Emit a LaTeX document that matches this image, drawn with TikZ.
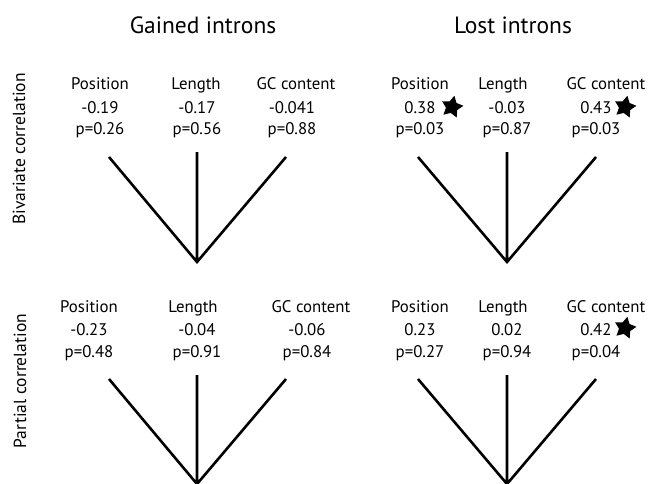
\documentclass[tikz,border=0pt]{standalone}
\usepackage{fontspec}
\setmainfont{PT Sans}
\usetikzlibrary{shapes.geometric}

\begin{document}
\begin{tikzpicture}[x=1pt, y=-1pt, line width=2.6pt,
        title/.style={font=\fontsize{23.5}{28}\selectfont, anchor=base, inner sep=0pt},
        head/.style={font=\fontsize{16.8}{21}\selectfont, anchor=base, inner sep=0pt},
        vals/.style={font=\fontsize{16.8}{21.5}\selectfont, anchor=base, inner sep=0pt, align=center},
        rowlab/.style={font=\fontsize{17.5}{20}\selectfont, rotate=90, anchor=base, inner sep=0pt},
        signif/.style={star, star points=5, star point ratio=1.9, minimum size=23pt,
                       fill=black, inner sep=0pt, rotate=-12}]
        \useasboundingbox (0,0) rectangle (650,483);

%% titles
        \node [title] (gained) at (203,33) {Gained introns};
        \node [title] (lost) at (513,33) {Lost introns};
        \node [rowlab] (bivariate) at (25,149) {Bivariate correlation};
        \node [rowlab] (partial) at (26,381) {Partial correlation};

%% bivariate, gained
        \node [head] (gbposhead) at (100,89) {Position};
        \node [vals] (gbposval) at (100,134.5) {-0.19\\p=0.26};
        \node [head] (gblenhead) at (196,89) {Length};
        \node [vals] (gblenval) at (197,134.5) {-0.17\\p=0.56};
        \node [head] (gbgchead) at (296,89) {GC content};
        \node [vals] (gbgcval) at (292,134.5) {-0.041\\p=0.88};

%% bivariate, lost
        \node [head] (lbposhead) at (420,89) {Position};
        \node [vals] (lbposval) at (420,134.5) {0.38\\p=0.03};
        \node [head] (lblenhead) at (503,89) {Length};
        \node [vals] (lblenval) at (507,134.5) {-0.03\\p=0.87};
        \node [head] (lbgchead) at (606,89) {GC content};
        \node [vals] (lbgcval) at (596,134.5) {0.43\\p=0.03};
        \node [signif] (lbposstar) at (452,107) {};
        \node [signif] (lbgcstar) at (625,107) {};

%% partial, gained
        \node [head] (gpposhead) at (89,312) {Position};
        \node [vals] (gpposval) at (89,357) {-0.23\\p=0.48};
        \node [head] (gplenhead) at (193,312) {Length};
        \node [vals] (gplenval) at (197,357) {-0.04\\p=0.91};
        \node [head] (gpgchead) at (311,312) {GC content};
        \node [vals] (gpgcval) at (307,357) {-0.06\\p=0.84};

%% partial, lost
        \node [head] (lpposhead) at (420,312) {Position};
        \node [vals] (lpposval) at (420,357) {0.23\\p=0.27};
        \node [head] (lplenhead) at (503,312) {Length};
        \node [vals] (lplenval) at (507,357) {0.02\\p=0.94};
        \node [head] (lpgchead) at (606,312) {GC content};
        \node [vals] (lpgcval) at (596,357) {0.42\\p=0.04};
        \node [signif] (lpgcstar) at (625,328) {};

%% trees
        \coordinate (gbroot) at (197,262);
        \coordinate (gbpos) at (109,157);
        \coordinate (gblen) at (197,152);
        \coordinate (gbgc) at (286,157);
        \coordinate (lbroot) at (507,262);
        \coordinate (lbpos) at (418,157);
        \coordinate (lblen) at (507,152);
        \coordinate (lbgc) at (596,157);
        \coordinate (gproot) at (197,484);
        \coordinate (gppos) at (109,379);
        \coordinate (gplen) at (197,375);
        \coordinate (gpgc) at (286,379);
        \coordinate (lproot) at (507,484);
        \coordinate (lppos) at (418,379);
        \coordinate (lplen) at (507,375);
        \coordinate (lpgc) at (596,379);

        \draw (gbpos) -- (gbroot) -- (gbgc) (gbroot) -- (gblen);
        \draw (lbpos) -- (lbroot) -- (lbgc) (lbroot) -- (lblen);
        \draw (gppos) -- (gproot) -- (gpgc) (gproot) -- (gplen);
        \draw (lppos) -- (lproot) -- (lpgc) (lproot) -- (lplen);
\end{tikzpicture}
\end{document}
